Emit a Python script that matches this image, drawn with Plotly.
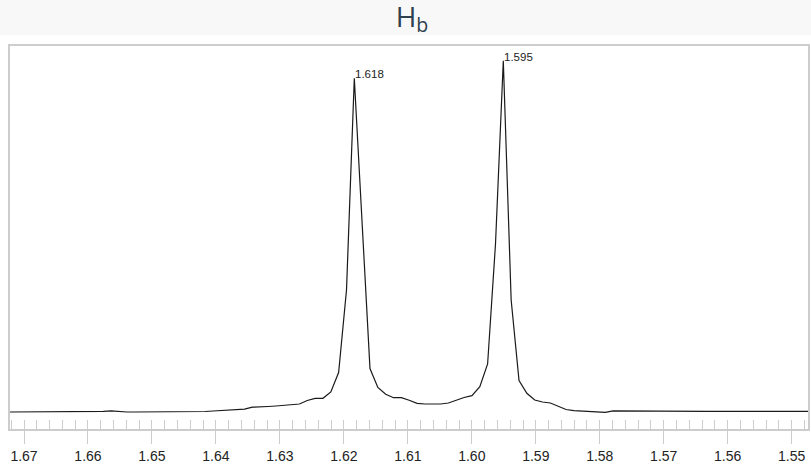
import plotly.graph_objects as go

# ---- data -------------------------------------------------------------
chemical_shift_ppm = [
    1.67231, 1.67108, 1.66985, 1.66863, 1.66740, 1.66618, 1.66495, 1.66372, 1.66250, 1.66127,
    1.66005, 1.65882, 1.65759, 1.65637, 1.65514, 1.65392, 1.65269, 1.65146, 1.65024, 1.64901,
    1.64779, 1.64656, 1.64534, 1.64411, 1.64288, 1.64166, 1.64043, 1.63921, 1.63798, 1.63675,
    1.63553, 1.63430, 1.63308, 1.63185, 1.63063, 1.62940, 1.62817, 1.62695, 1.62572, 1.62450,
    1.62327, 1.62204, 1.62082, 1.61959, 1.61837, 1.61714, 1.61592, 1.61469, 1.61346, 1.61224,
    1.61101, 1.60979, 1.60856, 1.60733, 1.60611, 1.60488, 1.60366, 1.60243, 1.60121, 1.59998,
    1.59875, 1.59753, 1.59630, 1.59508, 1.59385, 1.59262, 1.59140, 1.59017, 1.58895, 1.58772,
    1.58650, 1.58527, 1.58404, 1.58282, 1.58159, 1.58037, 1.57914, 1.57791, 1.57669, 1.57546,
    1.57424, 1.57301, 1.57179, 1.57056, 1.56933, 1.56811, 1.56688, 1.56566, 1.56443, 1.56320,
    1.56198, 1.56075, 1.55953, 1.55830, 1.55707, 1.55585, 1.55462, 1.55340, 1.55217, 1.55095,
    1.54972, 1.54849, 1.54727,
]

intensity = [
    17.0, 17.0, 17.0, 17.0, 17.0, 17.0, 17.0, 17.0, 17.0, 17.0,
    17.0, 17.0, 17.7, 18.2, 17.5, 17.0, 17.0, 17.0, 17.0, 17.0,
    17.0, 17.0, 17.0, 17.0, 17.0, 17.5, 18.0, 18.5, 19.0, 19.3,
    19.8, 21.8, 22.5, 22.5, 23.0, 23.7, 24.2, 25.0, 28.5, 30.7,
    30.7, 37.0, 56.5, 139.0, 350.7, 201.0, 60.5, 41.5, 34.7, 31.3,
    31.3, 28.7, 25.7, 25.0, 25.0, 25.0, 26.0, 28.7, 31.5, 33.3,
    42.3, 65.0, 185.0, 368.3, 129.0, 48.5, 35.7, 29.0, 27.0, 26.0,
    22.5, 19.5, 18.3, 17.7, 17.2, 16.8, 16.6, 18.2, 18.1, 18.1,
    18.1, 18.1, 18.1, 18.1, 18.1, 18.1, 17.7, 17.7, 17.7, 17.7,
    17.7, 17.7, 17.7, 17.7, 17.7, 17.7, 17.7, 17.7, 17.7, 17.7,
    17.7, 17.7, 17.7,
]

peak_labels = ["1.618", "1.595"]

x_range = [1.67219, 1.54745]
y_range = [0, 383]

# ---- figure -----------------------------------------------------------
fig = go.Figure()

fig.add_trace(go.Scatter(
    x=chemical_shift_ppm, y=intensity, mode="lines",
    line=dict(color="#1a1a1a", width=1.2),
    showlegend=False, hoverinfo="skip",
))
# invisible trace to carry the minor-tick axis
fig.add_trace(go.Scatter(
    x=chemical_shift_ppm, y=intensity, mode="lines", xaxis="x2",
    line=dict(color="rgba(0,0,0,0)", width=0),
    showlegend=False, hoverinfo="skip",
))

# peak labels at the two local maxima
half = len(intensity) // 2
i1 = max(range(0, half), key=lambda i: intensity[i])
i2 = max(range(half, len(intensity)), key=lambda i: intensity[i])
annotations = []
for idx, lab in zip([i1, i2], peak_labels):
    annotations.append(dict(
        x=chemical_shift_ppm[idx], y=intensity[idx], xref="x", yref="y",
        text=lab, showarrow=False, xanchor="left", yanchor="bottom",
        xshift=-1, yshift=-4,
        font=dict(family="Liberation Sans, Arial", size=11.5, color="#222222"),
    ))

grey = "#cdcdcd"
fig.update_layout(
    width=811, height=464,
    margin=dict(l=10, r=3, t=46, b=35),
    paper_bgcolor="#f8f8f8",
    plot_bgcolor="white",
    title=dict(
        text="H<sub>b</sub>", x=0.508, xref="container", xanchor="center",
        y=0.985, yref="container", yanchor="top",
        font=dict(family="Open Sans", size=28, color="#2f4050"),
    ),
    xaxis=dict(
        range=x_range, showgrid=False, zeroline=False, automargin=False,
        showline=True, linecolor=grey, linewidth=1.5, mirror=True,
        ticks="outside", ticklen=13, tickwidth=1, tickcolor=grey,
        dtick=0.01, tick0=1.55, tickformat=".2f",
        tickfont=dict(family="Liberation Sans, Arial", size=14, color="#222222"),
    ),
    xaxis2=dict(
        range=x_range, overlaying="x", anchor="y", side="bottom",
        showgrid=False, zeroline=False, showline=False, automargin=False,
        ticks="inside", ticklen=9, tickwidth=1, tickcolor=grey,
        dtick=0.002, tick0=1.55, showticklabels=False,
    ),
    yaxis=dict(
        range=y_range, showgrid=False, zeroline=False, automargin=False,
        showline=True, linecolor=grey, linewidth=1.5, mirror=True,
        ticks="", showticklabels=False,
    ),
    shapes=[dict(
        type="rect", xref="paper", yref="paper",
        x0=-0.02, x1=1.02, y0=-0.1, y1=(429 - 35) / 383,
        fillcolor="white", line=dict(width=0), layer="below",
    )],
    annotations=annotations,
)

fig.write_html("out.html")
